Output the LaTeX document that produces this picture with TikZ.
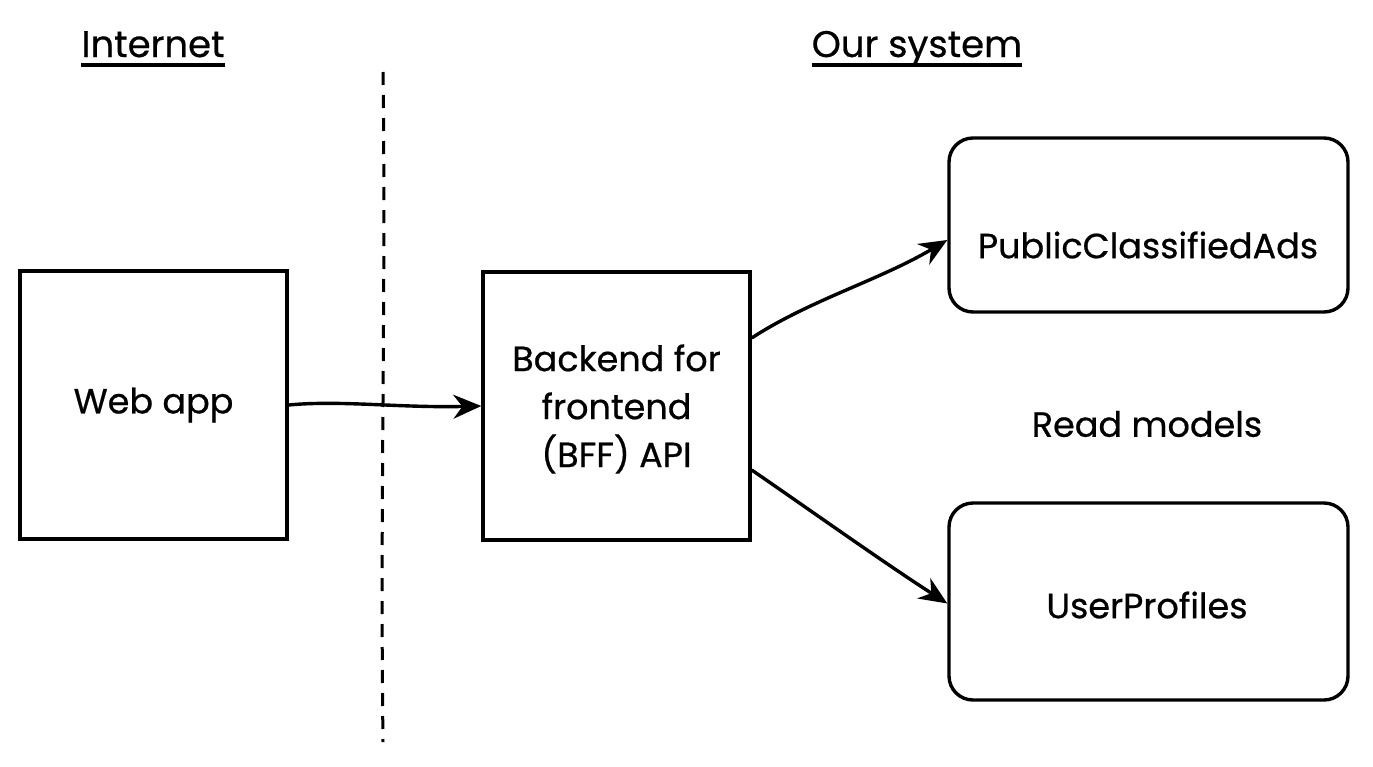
\documentclass[tikz,border=0pt]{standalone}
\usepackage{fontspec}
\setmainfont{Poppins}[FakeBold=0.6]
\usetikzlibrary{arrows.meta,positioning}
\begin{document}
\begin{tikzpicture}[x=1pt,y=-1pt,
  lbl/.style={font=\fontsize{35}{48}\selectfont, align=center, inner sep=0pt},
  ttl/.style={font=\fontsize{37}{44}\selectfont, inner sep=0pt, anchor=base},
  sqbox/.style={draw, line width=3.4pt, minimum width=267pt, minimum height=268pt, inner sep=0pt},
  rbox/.style={draw, line width=3.4pt, rounded corners=24pt, minimum width=399pt, inner sep=0pt},
  conn/.style={line width=3.4pt, -{Stealth[length=28pt,width=24pt]}},
  sep/.style={line width=3pt, dash pattern=on 13pt off 10pt}]
\useasboundingbox (0,0) rectangle (1373,766);
\node[ttl] (tint) at (153,57) {Internet};
\node[ttl] (tour) at (917,57) {Our system};
\draw[line width=3.4pt] ([yshift=-8pt]tint.base west) -- ([yshift=-8pt]tint.base east);
\draw[line width=3.4pt] ([yshift=-8pt]tour.base west) -- ([yshift=-8pt]tour.base east);
\coordinate (st) at (383,72);
\coordinate (sb) at (383,742);
\draw[sep] (st) .. controls (386,300) and (380,500) .. (sb);
\node[sqbox] (web) at (153.5,405) {};
\node[lbl] (webt) at (web.center) {Web app};
\node[sqbox] (bff) at (616.5,406) {};
\node[lbl] (bfft) at ([yshift=-3pt]bff.center) {Backend for\\frontend\\(BFF) API};
\node[rbox, minimum height=174pt] (pca) at (1148.5,225) {};
\node[lbl] (pcat) at (1148,245) {PublicClassifiedAds};
\node[lbl] (rm) at (1147,424) {Read models};
\node[rbox, minimum height=197pt] (up) at (1148.5,601.5) {};
\node[lbl] (upt) at (1147,605) {UserProfiles};
\draw[conn] (web.east) .. controls (340,400) and (400,408) .. (bff.west);
\draw[conn] ([yshift=68pt]bff.east) .. controls (810,300) and (880,280) .. ([yshift=-15pt]pca.west);
\draw[conn] ([yshift=-64pt]bff.east) .. controls (810,510) and (880,560) .. ([yshift=-2pt]up.west);
\end{tikzpicture}
\end{document}
